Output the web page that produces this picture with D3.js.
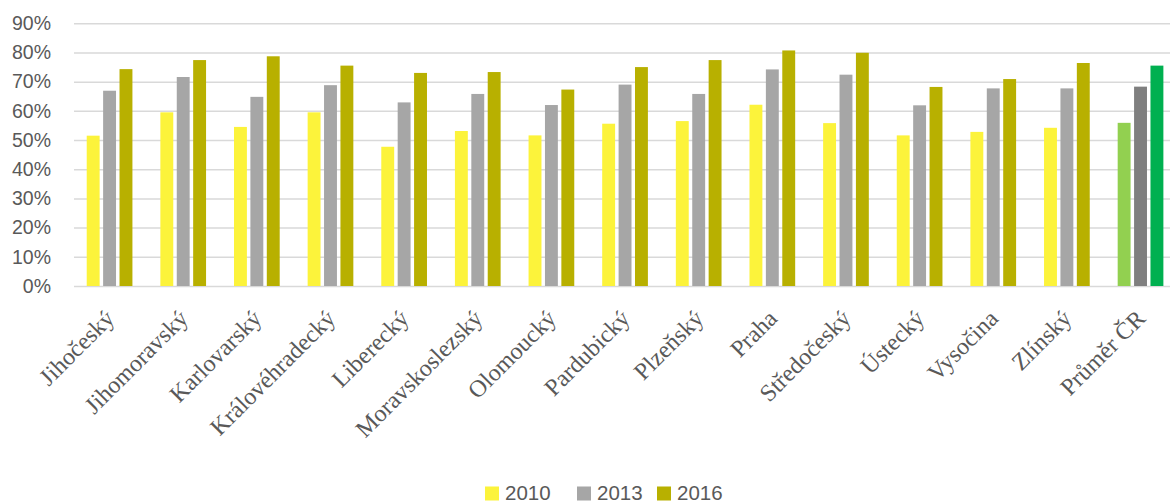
<!DOCTYPE html>
<html><head><meta charset="utf-8">
<script src="https://cdn.jsdelivr.net/npm/d3@7"></script>
<style>body{margin:0;background:#fff;}svg{display:block;}</style>
</head><body>
<svg id="c" width="1170" height="504"></svg>
<script>
const categories = ["Jihočeský","Jihomoravský","Karlovarský","Královéhradecký","Liberecký","Moravskoslezský","Olomoucký","Pardubický","Plzeňský","Praha","Středočeský","Ústecký","Vysočina","Zlínský","Průměr ČR"];
const seriesNames = ["2010","2013","2016"];
const v2010 = [51.5,59.5,54.5,59.5,47.7,53.1,51.6,55.6,56.5,62.1,55.8,51.6,52.8,54.2,55.9];
const v2013 = [66.9,71.6,64.8,68.8,62.9,65.8,62.0,69.0,65.8,74.2,72.4,61.9,67.7,67.7,68.3];
const v2016 = [74.3,77.4,78.7,75.5,73.0,73.3,67.3,75.0,77.4,80.7,79.9,68.2,70.9,76.4,75.5];
const yTicks = [0,10,20,30,40,50,60,70,80,90];
const colors = ["#FCF33B","#A6A6A6","#B8B000"];
const avgColors = ["#92D050","#7F7F7F","#00B050"];

const values = [v2010, v2013, v2016];
const svg = d3.select("#c");
const mLeft = 74, mRight = 1178.6, mTop = 23.3, mBottom = 286;
const x0 = d3.scaleBand().domain(categories).range([mLeft, mRight]).paddingInner(0).paddingOuter(0);
const y = d3.scaleLinear().domain([0, 90]).range([mBottom, mTop]);
const groupW = 49.2;
const x1 = d3.scaleBand().domain(seriesNames).range([0, groupW]);

// gridlines
const yAxis = d3.axisLeft(y).tickValues(yTicks).tickFormat(d => d + "%").tickSize(-(1170 - mLeft)).tickPadding(23);
const g = svg.append("g").attr("transform", `translate(${mLeft},0)`).call(yAxis);
g.select(".domain").remove();
g.selectAll(".tick line").attr("stroke", "#D9D9D9").attr("stroke-width", 1.5);
g.selectAll(".tick text").attr("fill", "#595959").style("font-family", "Liberation Sans, Arial, sans-serif").style("font-size", "19.5px");

// bars
categories.forEach((c, i) => {
  const gx = x0(c) + (x0.bandwidth() - groupW) / 2;
  seriesNames.forEach((s, j) => {
    const v = values[j][i];
    const col = c === "Průměr ČR" ? avgColors[j] : colors[j];
    svg.append("rect")
      .attr("x", gx + x1(s) + 0.5)
      .attr("width", x1.bandwidth() - 3.5)
      .attr("y", y(v))
      .attr("height", y(0) - y(v))
      .attr("fill", col);
  });
});

// x labels
const xAxis = d3.axisBottom(x0).tickSize(0).tickPadding(0);
const gxa = svg.append("g").attr("transform", `translate(0,${mBottom})`).call(xAxis);
gxa.select(".domain").remove();
gxa.selectAll(".tick text")
  .attr("fill", "#595959")
  .style("font-family", "Liberation Serif, Times New Roman, serif")
  .style("font-size", "24px")
  .attr("text-anchor", "end")
  .attr("y", 0)
  .attr("dy", "0.35em")
  .attr("transform", "translate(-1,28) rotate(-45)");

// legend
const legend = svg.append("g");
const lx = [485, 577, 657];
seriesNames.forEach((s, j) => {
  legend.append("rect").attr("x", lx[j]).attr("y", 486.5).attr("width", 14).attr("height", 14).attr("fill", colors[j]);
  legend.append("text").attr("x", lx[j] + 20).attr("y", 499.5)
    .attr("fill", "#595959").style("font-family", "Liberation Sans, Arial, sans-serif").style("font-size", "20.5px").text(s);
});
</script>
</body></html>
